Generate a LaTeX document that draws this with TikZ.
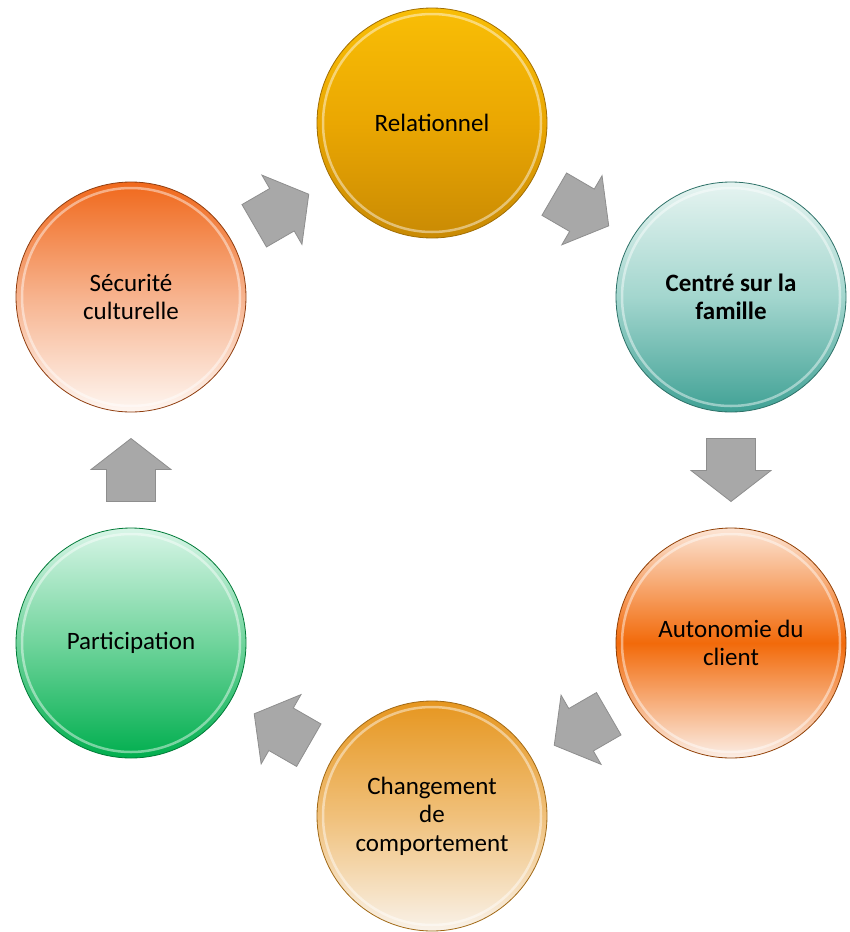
\documentclass[tikz,border=0pt]{standalone}
\usepackage{fontspec}
\setmainfont{Carlito}
\usetikzlibrary{calc}

% sphere palettes: top / middle / bottom
\definecolor{relA}{HTML}{F9BE06}
\definecolor{relB}{HTML}{EAA702}
\definecolor{relC}{HTML}{C98A04}
\definecolor{famA}{HTML}{E6F4F1}
\definecolor{famB}{HTML}{A3D6CE}
\definecolor{famC}{HTML}{40A195}
\definecolor{autA}{HTML}{FCE4D4}
\definecolor{autB}{HTML}{F26A0A}
\definecolor{autC}{HTML}{FBEEE6}
\definecolor{chgA}{HTML}{E6961F}
\definecolor{chgB}{HTML}{F0C07A}
\definecolor{chgC}{HTML}{F9F2E9}
\definecolor{parA}{HTML}{D8F5E7}
\definecolor{parB}{HTML}{70D49C}
\definecolor{parC}{HTML}{00AE4E}
\definecolor{secA}{HTML}{F0681B}
\definecolor{secB}{HTML}{F7B38E}
\definecolor{secC}{HTML}{FEF6F1}
\definecolor{arrowgray}{HTML}{A8A8A8}
\definecolor{arrowedge}{HTML}{8E8E8E}

\tikzset{
  bubble/.style={circle, minimum size=230pt, inner sep=0pt, align=center,
    font=\fontsize{25}{28.5}\selectfont, text=black, line width=0.8pt},
  rim/.style={white, opacity=0.45, line width=2.5pt},
  arrowbody/.style={fill=arrowgray, draw=arrowedge, line width=0.8pt, line join=miter},
  % block arrow pointing along +x, centred on the origin
  blockarrow/.pic={
    \draw[arrowbody] (-31.5,-24.5) -- (0.5,-24.5) -- (0.5,-40) -- (31.5,0)
      -- (0.5,40) -- (0.5,24.5) -- (-31.5,24.5) -- cycle;
  },
}

\begin{document}
\begin{tikzpicture}[x=1pt,y=-1pt]
\useasboundingbox (0,0) rectangle (849,932);

% the six stages
\node[bubble, top color=relA, bottom color=relC, middle color=relB, draw=relC!80!black] (rel) at (432,123) {Relationnel};
\node[bubble, top color=famA, bottom color=famC, middle color=famB, draw=famC!70!black, font=\fontsize{25}{28.5}\selectfont\bfseries] (fam) at (731,297) {Centré sur la\\famille};
\node[bubble, top color=autA, bottom color=autC, middle color=autB, draw=autB!60!black] (aut) at (731,643) {Autonomie du\\client};
\node[bubble, top color=chgA, bottom color=chgC, middle color=chgB, draw=chgA!70!black] (chg) at (432,816) {Changement\\de\\comportement};
\node[bubble, top color=parA, bottom color=parC, middle color=parB, draw=parC!70!black] (par) at (131,643) {Participation};
\node[bubble, top color=secA, bottom color=secC, middle color=secB, draw=secA!60!black] (sec) at (131,297) {Sécurité\\culturelle};

% glossy inner rim
\foreach \n in {rel,fam,aut,chg,par,sec}
  \draw[rim] (\n.center) circle (109pt);

% block arrows halfway between consecutive stages
\foreach \s/\t/\k in {sec/rel/1, rel/fam/2, fam/aut/3, aut/chg/4, chg/par/5, par/sec/6}
  \path let \p1=($(\t)-(\s)$), \n1={atan2(\y1,\x1)} in
    coordinate (mid\k) at ($(\s)!0.5!(\t)$)
    (mid\k) pic[rotate=\n1] {blockarrow};
\end{tikzpicture}
\end{document}
